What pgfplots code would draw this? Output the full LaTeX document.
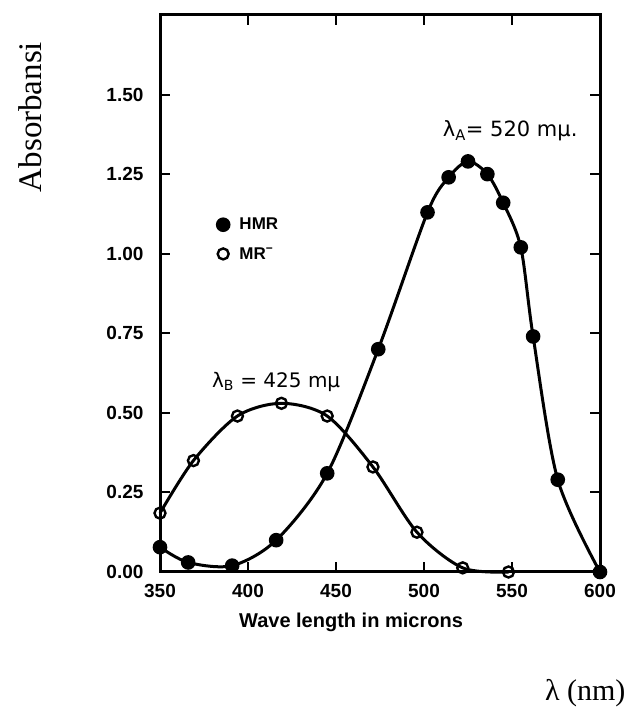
\documentclass[border=0pt]{standalone}
\usepackage{fontspec}
\setmainfont{Liberation Serif}
\newfontfamily\arialf{Liberation Sans}
\newfontfamily\handf{DejaVu Sans}
\usepackage{pgfplots}
\usepackage{pgfplotstable}
\pgfplotsset{compat=1.18}
\usetikzlibrary{calc}

% absorbance
\pgfplotstableread{
x y
350 0.078
366 0.030
391 0.020
416 0.100
445 0.310
474 0.700
502 1.130
514 1.240
525 1.290
536 1.250
545 1.160
555 1.020
562 0.740
576 0.290
600 0.000
}\hmr

\pgfplotstableread{
x y
350 0.185
369 0.350
394 0.490
419 0.530
445 0.490
471 0.330
496 0.125
522 0.013
548 0.000
}\mrminus

\begin{document}
\begin{tikzpicture}
\begin{axis}[
    name=ax,
    scale only axis,
    width=440pt, height=557pt,
    xmin=350, xmax=600, ymin=0, ymax=1.75,
    xtick={350,400,450,500,550,600},
    ytick={0,0.25,0.5,0.75,1,1.25,1.5},
    tick align=inside, tick pos=both,
    major tick length=10pt,
    axis line style={line width=2.5pt},
    major tick style={line width=2pt, black},
    /pgf/number format/assume math mode=true,
    ticklabel style={font=\arialf\bfseries\fontsize{19}{21}\selectfont},
    yticklabel style={/pgf/number format/fixed, /pgf/number format/fixed zerofill,
        /pgf/number format/precision=2, xshift=-13pt},
    xticklabel style={yshift=-9pt},
    clip=false,
    legend style={draw=none, fill=none, at={(axis cs:380,1.125)}, anchor=north west,
        font=\arialf\bfseries\fontsize{17}{19}\selectfont, row sep=12pt},
    legend cell align=left,
    legend image code/.code={\path (0cm,0cm) (0.65cm,0cm);
        \draw[#1, only marks] plot coordinates {(0.2cm,0cm)};},
]
\addplot[black, line width=3pt, smooth, mark=*, mark size=5.8pt] table {\hmr};
\addlegendentry{HMR}
\addplot[black, line width=3pt, smooth, mark=o, mark size=5.5pt,
    mark options={fill=white, line width=2.4pt}] table {\mrminus};
\addlegendentry{MR\textsuperscript{−}}

\node[font=\handf\fontsize{21}{23}\selectfont] at (axis cs:549,1.386) {λ\textsubscript{A}= 520 mμ.};
\node[font=\handf\fontsize{20}{22}\selectfont] at (axis cs:416,0.596) {λ\textsubscript{B} = 425 mμ};
\end{axis}
\draw[line width=3pt] (ax.south west) rectangle (ax.north east);

\node[rotate=90, font=\fontsize{33}{35}\selectfont] at ($(ax.north west)+(-130pt,-102pt)$) {Absorbansi};
\node[font=\fontsize{30}{32}\selectfont, anchor=east] at ($(ax.south east)+(29pt,-121pt)$) {λ (nm)};
\node[font=\arialf\bfseries\fontsize{20}{22}\selectfont] at ($(ax.south west)+(191pt,-50pt)$) {Wave length in microns};

\pgfresetboundingbox
\path[use as bounding box] ($(ax.south west)+(-160pt,-137pt)$) rectangle ($(ax.north east)+(31pt,15pt)$);
\end{tikzpicture}
\end{document}
